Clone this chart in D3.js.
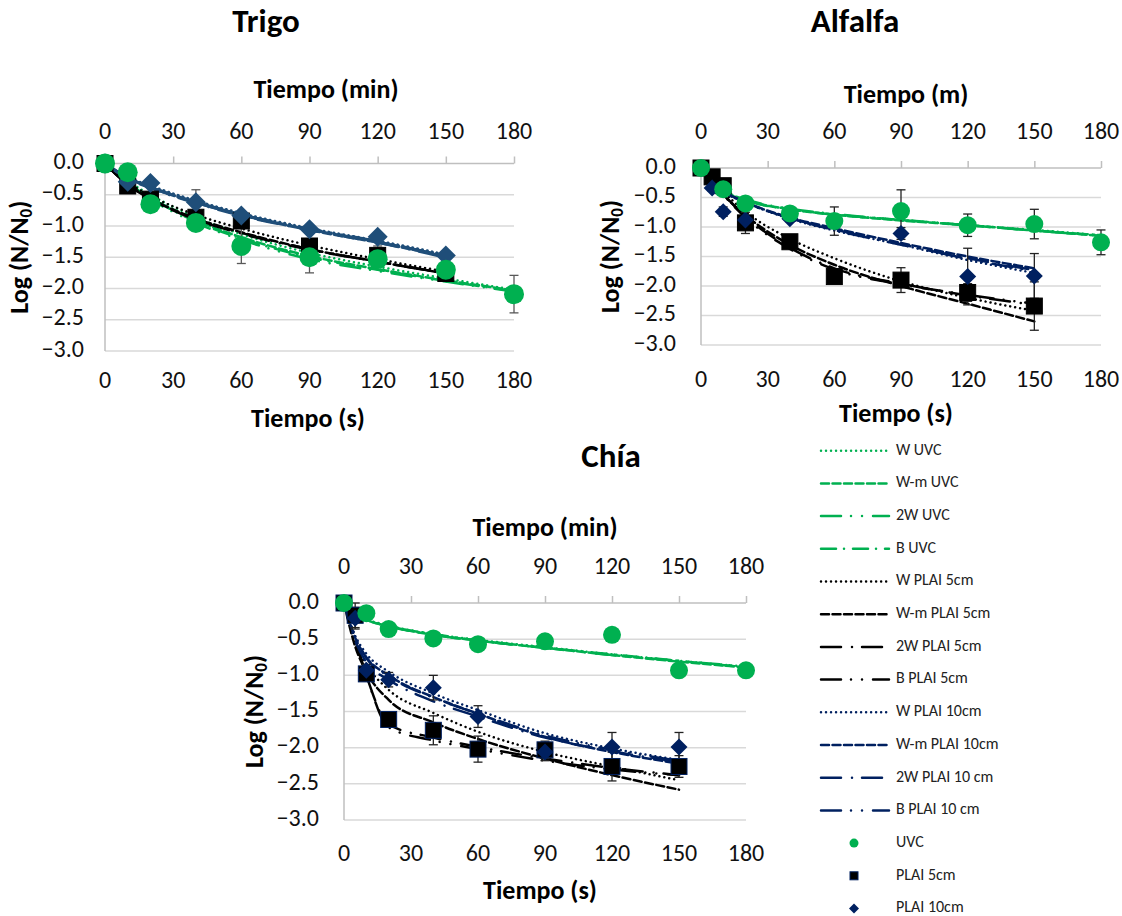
<!DOCTYPE html>
<html><head><meta charset="utf-8">
<script src="https://cdn.jsdelivr.net/npm/d3@7"></script>
<style>
body{margin:0;background:#fff;}
svg{display:block;font-family:Carlito,Lato,"Open Sans",sans-serif;}
</style>
</head><body>
<svg id="c" width="1122" height="916"></svg>
<script>
// ---------- shared ----------
const timeTicks = [0, 30, 60, 90, 120, 150, 180];
const yTicks = [0, -0.5, -1, -1.5, -2, -2.5, -3];
const modelNames = ["W", "W-m", "2W", "B"];
const legendLabels = ["W UVC","W-m UVC","2W UVC","B UVC","W PLAI 5cm","W-m PLAI 5cm","2W PLAI 5cm","B PLAI 5cm","W PLAI 10cm","W-m PLAI 10cm","2W PLAI 10 cm","B PLAI 10 cm","UVC","PLAI 5cm","PLAI 10cm"];

// ---------- Trigo ----------
const trigoUvcT = [0, 10, 20, 40, 60, 90, 120, 150, 180];
const trigoUvc = [0, -0.14, -0.65, -0.95, -1.32, -1.50, -1.53, -1.70, -2.09];
const trigoUvcErr = [0.03, 0.05, 0.06, 0.06, 0.28, 0.25, 0.12, 0.10, 0.30];
const trigoPlaiT = [0, 10, 20, 40, 60, 90, 120, 150];
const trigoPlai5 = [0, -0.36, -0.57, -0.86, -0.92, -1.32, -1.47, -1.76];
const trigoPlai5Err = [0.03, 0.05, 0.05, 0.06, 0.10, 0.08, 0.15, 0.10];
const trigoPlai10 = [0, -0.29, -0.31, -0.62, -0.83, -1.05, -1.17, -1.47];
const trigoPlai10Err = [0.02, 0.03, 0.04, 0.20, 0.05, 0.05, 0.05, 0.05];
const trigoFitUvc = [
  [0, -0.28, -0.50, -0.86, -1.13, -1.43, -1.65, -1.84, -2.02],
  [0, -0.31, -0.54, -0.91, -1.18, -1.48, -1.69, -1.87, -2.03],
  [0, -0.33, -0.57, -0.95, -1.22, -1.53, -1.72, -1.89, -2.05],
  [0, -0.32, -0.55, -0.93, -1.20, -1.50, -1.70, -1.88, -2.04]];
const trigoFitPlai5 = [
  [0, -0.30, -0.52, -0.82, -1.04, -1.31, -1.53, -1.73],
  [0, -0.33, -0.56, -0.88, -1.10, -1.37, -1.57, -1.76],
  [0, -0.34, -0.57, -0.90, -1.12, -1.38, -1.57, -1.76],
  [0, -0.33, -0.56, -0.89, -1.11, -1.37, -1.57, -1.76]];
const trigoFitPlai10 = [
  [0, -0.22, -0.36, -0.60, -0.80, -1.04, -1.24, -1.46],
  [0, -0.23, -0.38, -0.62, -0.82, -1.06, -1.26, -1.48],
  [0, -0.24, -0.39, -0.63, -0.83, -1.06, -1.26, -1.50],
  [0, -0.23, -0.38, -0.62, -0.82, -1.05, -1.25, -1.49]];

// ---------- Alfalfa ----------
const alfUvcT = [0, 10, 20, 40, 60, 90, 120, 150, 180];
const alfUvc = [0, -0.36, -0.60, -0.77, -0.90, -0.73, -0.97, -0.95, -1.26];
const alfUvcErr = [0.02, 0.05, 0.06, 0.06, 0.24, 0.36, 0.19, 0.25, 0.21];
const alfPlaiT = [0, 5, 10, 20, 40, 60, 90, 120, 150];
const alfPlai5 = [0, -0.15, -0.30, -0.93, -1.25, -1.84, -1.90, -2.11, -2.34];
const alfPlai5Err = [0.02, 0.05, 0.05, 0.18, 0.08, 0.05, 0.21, 0.15, 0.41];
const alfPlai10 = [0, -0.34, -0.74, -0.88, -0.86, -0.92, -1.11, -1.84, -1.83];
const alfPlai10Err = [0.02, 0.05, 0.08, 0.05, 0.05, 0.05, 0.10, 0.48, 0.38];
const alfFitUvc = [
  [0, -0.40, -0.55, -0.70, -0.79, -0.88, -0.97, -1.05, -1.14],
  [0, -0.38, -0.54, -0.70, -0.79, -0.89, -0.97, -1.06, -1.15],
  [0, -0.37, -0.53, -0.69, -0.78, -0.88, -0.97, -1.06, -1.15],
  [0, -0.39, -0.55, -0.70, -0.79, -0.88, -0.97, -1.06, -1.14]];
const alfFitPlai5 = [
  [0, -0.20, -0.40, -0.74, -1.20, -1.53, -1.92, -2.20, -2.42],
  [0, -0.23, -0.45, -0.80, -1.30, -1.64, -2.00, -2.30, -2.60],
  [0, -0.22, -0.44, -0.82, -1.35, -1.70, -1.96, -2.16, -2.32],
  [0, -0.22, -0.45, -0.84, -1.37, -1.72, -1.97, -2.15, -2.30]];
const alfFitPlai10 = [
  [0, -0.22, -0.38, -0.58, -0.86, -1.06, -1.30, -1.56, -1.78],
  [0, -0.24, -0.40, -0.58, -0.84, -1.02, -1.27, -1.50, -1.70],
  [0, -0.23, -0.39, -0.58, -0.85, -1.05, -1.30, -1.53, -1.73],
  [0, -0.23, -0.39, -0.58, -0.85, -1.04, -1.29, -1.54, -1.75]];

// ---------- Chía ----------
const chiaUvcT = [0, 10, 20, 40, 60, 90, 120, 150, 180];
const chiaUvc = [0, -0.14, -0.36, -0.49, -0.57, -0.53, -0.44, -0.93, -0.93];
const chiaUvcErr = [0.02, 0.03, 0.03, 0.03, 0.03, 0.03, 0.03, 0.03, 0.03];
const chiaPlaiT = [0, 5, 10, 20, 40, 60, 90, 120, 150];
const chiaPlai5 = [0, -0.17, -0.98, -1.61, -1.76, -2.02, -2.03, -2.26, -2.26];
const chiaPlai5Err = [0.02, 0.17, 0.08, 0.05, 0.20, 0.18, 0.12, 0.20, 0.15];
const chiaPlai10 = [0, -0.21, -0.93, -1.06, -1.17, -1.57, -2.06, -1.99, -1.99];
const chiaPlai10Err = [0.02, 0.15, 0.08, 0.10, 0.17, 0.15, 0.12, 0.20, 0.20];
const chiaFitUvc = [
  [0, -0.22, -0.31, -0.43, -0.51, -0.61, -0.71, -0.80, -0.88],
  [0, -0.23, -0.32, -0.44, -0.52, -0.62, -0.72, -0.81, -0.89],
  [0, -0.22, -0.32, -0.44, -0.52, -0.62, -0.72, -0.80, -0.88],
  [0, -0.23, -0.32, -0.43, -0.52, -0.62, -0.71, -0.80, -0.89]];
const chiaFitPlai5 = [
  [0, -0.55, -0.85, -1.20, -1.52, -1.78, -2.06, -2.26, -2.45],
  [0, -0.60, -0.95, -1.34, -1.65, -1.88, -2.15, -2.38, -2.58],
  [0, -0.50, -1.00, -1.68, -1.86, -1.99, -2.15, -2.28, -2.38],
  [0, -0.50, -1.00, -1.72, -1.90, -2.02, -2.18, -2.30, -2.38]];
const chiaFitPlai10 = [
  [0, -0.45, -0.70, -0.95, -1.25, -1.48, -1.80, -2.01, -2.17],
  [0, -0.48, -0.75, -1.00, -1.30, -1.53, -1.85, -2.06, -2.22],
  [0, -0.52, -0.82, -1.06, -1.36, -1.57, -1.86, -2.05, -2.20],
  [0, -0.47, -0.76, -1.01, -1.31, -1.53, -1.83, -2.03, -2.18]];

// ---------- styles ----------
const GREEN = "#00B050", BLACK = "#000000", NAVY = "#002060", STEEL = "#1F4E79";
const DOT = "0.01,5", DASH = "8,3.5", LDD = "20,10,0.01,11,0.01,11", DD = "15,8,0.01,9", LD = "20,11,0.01,10";
const uvcDashes = [DOT, DASH, LDD, DD];
const plaiDashes = [DOT, DASH, LD, LDD];
const TICK_FS = 24, AXT_FS = 26, TITLE_FS = 33;

const svg = d3.select("#c");

function drawPanel(p) {
  const x = d3.scaleLinear().domain([0, 180]).range([p.x0, p.x1]);
  const y = d3.scaleLinear().domain([-3, 0]).range([p.yb, p.yt]);
  const g = svg.append("g");

  g.append("text").attr("x", p.titleX).attr("y", p.titleY).attr("text-anchor", "middle")
    .attr("font-size", TITLE_FS).attr("font-weight", "bold").attr("dominant-baseline", "middle").text(p.title);

  g.selectAll(".grid").data(yTicks.slice(1)).enter().append("line")
    .attr("x1", x(0)).attr("x2", x(180)).attr("y1", d => y(d)).attr("y2", d => y(d))
    .attr("stroke", "#D9D9D9").attr("stroke-width", 1.5);

  g.append("line").attr("x1", x(0)).attr("x2", x(0)).attr("y1", y(0)).attr("y2", y(-3))
    .attr("stroke", "#BFBFBF").attr("stroke-width", 1.5);
  const topAxis = d3.axisTop(x).tickValues(timeTicks).tickSize(7).tickFormat("");
  const ta = g.append("g").attr("transform", `translate(0,${y(0)})`).call(topAxis);
  ta.selectAll("path,line").attr("stroke", "#BFBFBF").attr("stroke-width", 1.5);
  ta.select(".domain").attr("d", `M${x(0)},0H${x(180)}`);

  g.selectAll(".yl").data(yTicks).enter().append("text")
    .attr("x", p.yLabX).attr("y", d => y(d)).attr("text-anchor", "end").attr("dominant-baseline", "middle")
    .attr("font-size", TICK_FS).attr("fill", "#111").text(d => d3.format(".1f")(d));
  g.selectAll(".tl").data(timeTicks).enter().append("text")
    .attr("x", d => x(d)).attr("y", p.topLabY).attr("text-anchor", "middle").attr("dominant-baseline", "middle")
    .attr("font-size", TICK_FS).attr("fill", "#111").text(d => d);
  g.selectAll(".bl").data(timeTicks).enter().append("text")
    .attr("x", d => x(d)).attr("y", p.botLabY).attr("text-anchor", "middle").attr("dominant-baseline", "middle")
    .attr("font-size", TICK_FS).attr("fill", "#111").text(d => d);

  g.append("text").attr("x", p.topTitleX).attr("y", p.topTitleY).attr("text-anchor", "middle")
    .attr("dominant-baseline", "middle").attr("font-size", AXT_FS).attr("font-weight", "bold").text(p.topTitle);
  g.append("text").attr("x", p.botTitleX).attr("y", p.botTitleY).attr("text-anchor", "middle")
    .attr("dominant-baseline", "middle").attr("font-size", AXT_FS).attr("font-weight", "bold").text("Tiempo (s)");
  const yt = g.append("text").attr("transform", `translate(${p.yTitleX},${(y(0) + y(-3)) / 2}) rotate(-90)`)
    .attr("text-anchor", "middle").attr("dominant-baseline", "middle").attr("font-size", AXT_FS).attr("font-weight", "bold");
  yt.append("tspan").text("Log (N/N");
  yt.append("tspan").attr("font-size", 17).attr("dy", 6).text("0");
  yt.append("tspan").attr("dy", -6).text(")");

  const line = (ts) => d3.line().x((d, i) => x(ts[i])).y(d => y(d)).curve(d3.curveMonotoneX);
  function drawFits(fits, ts, color, dashes, w) {
    fits.forEach((f, k) => {
      g.append("path").attr("d", line(ts)(f)).attr("fill", "none").attr("stroke", color)
        .attr("stroke-width", w).attr("stroke-dasharray", dashes[k]).attr("stroke-linecap", "round");
    });
  }
  drawFits(p.fitUvc, p.uvcT, GREEN, uvcDashes, 2.5);
  drawFits(p.fitPlai5, p.plaiT, BLACK, plaiDashes, 2.5);
  drawFits(p.fitPlai10, p.plaiT, p.p10color, plaiDashes, p.p10w);

  function errBars(ts, vals, errs, color) {
    vals.forEach((v, i) => {
      const cx = x(ts[i]);
      const a = y(v + errs[i]), b = y(v - errs[i]);
      g.append("line").attr("x1", cx).attr("x2", cx).attr("y1", a).attr("y2", b).attr("stroke", color).attr("stroke-width", 1.3);
      [a, b].forEach(yy => g.append("line").attr("x1", cx - 4.5).attr("x2", cx + 4.5).attr("y1", yy).attr("y2", yy)
        .attr("stroke", color).attr("stroke-width", 1.3));
    });
  }
  errBars(p.plaiT, p.plai5, p.plai5Err, p.errColor);
  errBars(p.plaiT, p.plai10, p.plai10Err, p.errColor);
  errBars(p.uvcT, p.uvc, p.uvcErr, p.errColor);

  p.plai5.forEach((v, i) => {
    const s = p.sq;
    g.append("rect").attr("x", x(p.plaiT[i]) - s / 2).attr("y", y(v) - s / 2).attr("width", s).attr("height", s)
      .attr("fill", BLACK).attr("stroke", p.sqStroke).attr("stroke-width", 1);
  });
  p.plai10.forEach((v, i) => {
    const cx = x(p.plaiT[i]), cy = y(v), h = p.dm;
    g.append("path").attr("d", `M${cx},${cy - h}L${cx + h},${cy}L${cx},${cy + h}L${cx - h},${cy}Z`).attr("fill", p.p10color);
  });
  p.uvc.forEach((v, i) => {
    g.append("circle").attr("cx", x(p.uvcT[i])).attr("cy", y(v)).attr("r", p.r).attr("fill", GREEN);
  });
}

drawPanel({
  title: "Trigo", titleX: 266, titleY: 24,
  x0: 105, x1: 514, yt: 163.5, yb: 351,
  yLabX: 84, topLabY: 133, botLabY: 382,
  topTitle: "Tiempo (min)", topTitleX: 326, topTitleY: 92,
  botTitleX: 308, botTitleY: 421, yTitleX: 22,
  uvcT: trigoUvcT, uvc: trigoUvc, uvcErr: trigoUvcErr,
  plaiT: trigoPlaiT, plai5: trigoPlai5, plai5Err: trigoPlai5Err, plai10: trigoPlai10, plai10Err: trigoPlai10Err,
  fitUvc: trigoFitUvc, fitPlai5: trigoFitPlai5, fitPlai10: trigoFitPlai10,
  p10color: STEEL, p10w: 3.2, errColor: "#595959", r: 10, sq: 16, dm: 10, sqStroke: "#000"
});
drawPanel({
  title: "Alfalfa", titleX: 855, titleY: 24,
  x0: 701, x1: 1101, yt: 168, yb: 345,
  yLabX: 676, topLabY: 133, botLabY: 381,
  topTitle: "Tiempo (m)", topTitleX: 906, topTitleY: 97,
  botTitleX: 896, botTitleY: 416, yTitleX: 613,
  uvcT: alfUvcT, uvc: alfUvc, uvcErr: alfUvcErr,
  plaiT: alfPlaiT, plai5: alfPlai5, plai5Err: alfPlai5Err, plai10: alfPlai10, plai10Err: alfPlai10Err,
  fitUvc: alfFitUvc, fitPlai5: alfFitPlai5, fitPlai10: alfFitPlai10,
  p10color: NAVY, p10w: 2.5, errColor: "#222", r: 9, sq: 16, dm: 8.5, sqStroke: "#000"
});
drawPanel({
  title: "Chía", titleX: 611, titleY: 459,
  x0: 344, x1: 746, yt: 603, yb: 820,
  yLabX: 319, topLabY: 568, botLabY: 855,
  topTitle: "Tiempo (min)", topTitleX: 545, topTitleY: 530,
  botTitleX: 540, botTitleY: 893, yTitleX: 257,
  uvcT: chiaUvcT, uvc: chiaUvc, uvcErr: chiaUvcErr,
  plaiT: chiaPlaiT, plai5: chiaPlai5, plai5Err: chiaPlai5Err, plai10: chiaPlai10, plai10Err: chiaPlai10Err,
  fitUvc: chiaFitUvc, fitPlai5: chiaFitPlai5, fitPlai10: chiaFitPlai10,
  p10color: NAVY, p10w: 2.5, errColor: "#222", r: 9, sq: 16, dm: 8.5, sqStroke: NAVY
});

// ---------- legend ----------
const lg = svg.append("g");
const legColors = [GREEN, GREEN, GREEN, GREEN, BLACK, BLACK, BLACK, BLACK, NAVY, NAVY, NAVY, NAVY];
const legDashes = uvcDashes.concat(plaiDashes, plaiDashes);
legendLabels.forEach((lab, i) => {
  const yy = 450.7 + i * 32.7;
  if (i < 12) {
    lg.append("line").attr("x1", 821).attr("x2", 889).attr("y1", yy).attr("y2", yy)
      .attr("stroke", legColors[i]).attr("stroke-width", 2.5).attr("stroke-dasharray", legDashes[i]).attr("stroke-linecap", "round");
  } else if (i === 12) {
    lg.append("circle").attr("cx", 854).attr("cy", yy).attr("r", 4.5).attr("fill", GREEN);
  } else if (i === 13) {
    lg.append("rect").attr("x", 850).attr("y", yy - 4).attr("width", 8).attr("height", 8).attr("fill", BLACK).attr("stroke", NAVY).attr("stroke-width", 1);
  } else {
    lg.append("path").attr("d", `M854,${yy - 5}L859,${yy}L854,${yy + 5}L849,${yy}Z`).attr("fill", NAVY);
  }
  lg.append("text").attr("x", 896).attr("y", yy).attr("dominant-baseline", "middle").attr("font-size", 16)
    .attr("fill", "#222").text(lab);
});
</script>
</body></html>
